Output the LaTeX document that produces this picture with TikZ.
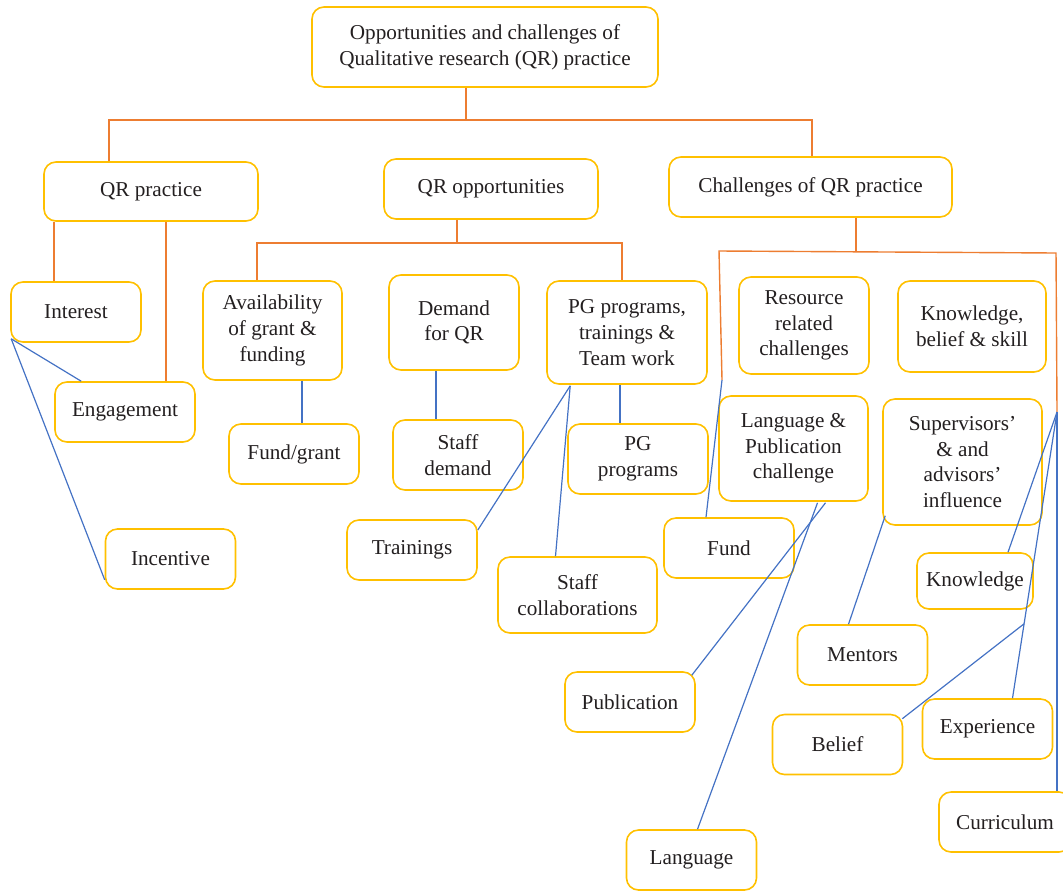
\documentclass[tikz,border=0pt]{standalone}
\usepackage{fontspec}
\setmainfont{Liberation Serif}
\usetikzlibrary{calc}

\definecolor{boxgold}{HTML}{FFC000}
\definecolor{treeorange}{HTML}{ED7D31}
\definecolor{leafblue}{HTML}{4472C4}
\definecolor{inkgray}{HTML}{231F20}

\begin{document}
\begin{tikzpicture}[
        x=0.5pt, y=-0.5pt,
        font=\fontsize{10.6}{12.8}\selectfont,
        box/.style={
            draw=boxgold,
            line width=0.8pt,
            rounded corners=6pt,
            text=inkgray,
            align=center,
            inner sep=1pt,
            minimum width=65pt,
            minimum height=30pt
        },
        trunk/.style={draw=treeorange, line width=0.7pt},
        twig/.style={draw=leafblue, line width=0.6pt}
    ]

    \useasboundingbox (0,0) rectangle (1063,894);

    % top levels
    \node[box, minimum width=173pt, minimum height=40pt] (root) at (485,47)
        {Opportunities and challenges of\\Qualitative research (QR) practice};
    \node[box, minimum width=107pt, minimum height=29.5pt] (qrprac) at (151,191.5) {QR practice};
    \node[box, minimum width=107pt] (qropp) at (491,189) {QR opportunities};
    \node[box, minimum width=141.5pt] (chall) at (810.5,187) {Challenges of QR practice};

    % practice
    \node[box] (interest) at (76,312) {Interest};
    \node[box, minimum width=70pt] (engage) at (125,412) {Engagement};
    \node[box] (incent) at (170.5,559) {Incentive};

    % opportunities
    \node[box, minimum width=69.5pt, minimum height=49.5pt] (avail) at (272.5,330.5)
        {Availability\\of grant \&\\funding};
    \node[box] (fundgrant) at (294,454) {Fund/grant};
    \node[box, minimum height=47.5pt] (demand) at (454,322.5) {Demand\\for QR};
    \node[box, minimum height=35pt] (staffdem) at (458,455) {Staff\\demand};
    \node[box, minimum width=80pt, minimum height=51.5pt] (pgtrain) at (627,332.5)
        {PG programs,\\trainings \&\\Team work};
    \node[box, minimum width=70pt, minimum height=35pt] (pgprog) at (638,459) {PG\\programs};
    \node[box] (trainings) at (412,550) {Trainings};
    \node[box, minimum width=79.5pt, minimum height=38pt] (staffcol) at (577.5,595)
        {Staff\\collaborations};

    % challenges
    \node[box, minimum height=48.5pt] (resource) at (804,325.5) {Resource\\related\\challenges};
    \node[box, minimum width=74pt, minimum height=45.5pt] (kbs) at (972,326.5)
        {Knowledge,\\belief \& skill};
    \node[box, minimum width=74.5pt, minimum height=52.5pt] (langpub) at (793.5,448.5)
        {Language \&\\Publication\\challenge};
    \node[box, minimum width=79.5pt, minimum height=63pt] (superv) at (962.5,462)
        {Supervisors'\\\& and\\advisors'\\influence};
    \node[box] (fund) at (729,548) {Fund};
    \node[box, minimum width=58pt, minimum height=28pt] (knowl) at (975,581) {Knowledge};
    \node[box] (mentors) at (862.5,655) {Mentors};
    \node[box] (public) at (630,702) {Publication};
    \node[box] (belief) at (837.5,744.5) {Belief};
    \node[box] (experience) at (987.5,729) {Experience};
    \node[box, minimum width=66pt] (curric) at (1005,822) {Curriculum};
    \node[box] (language) at (691.5,860) {Language};

    % orange tree
    \coordinate (b1) at (109,120);
    \coordinate (b2) at (812,120);
    \draw[trunk] (root.south -| 466,0) -- (466,120);
    \draw[trunk] (qrprac.north -| b1) -- (b1) -- (b2) -- (chall.north -| b2);

    \draw[trunk] (qrprac.south -| 54,0) -- (interest.north -| 54,0);
    \draw[trunk] (qrprac.south -| 166,0) -- (engage.north -| 166,0);

    \coordinate (o1) at (257,243);
    \coordinate (o2) at (622,243);
    \draw[trunk] (qropp.south -| 457,0) -- (457,243);
    \draw[trunk] (avail.north -| o1) -- (o1) -- (o2) -- (pgtrain.north -| o2);

    \coordinate (c1) at (719,251);
    \coordinate (c2) at (1056,253);
    \coordinate (cl) at (722,380);
    \coordinate (cr) at (1057,412);
    \draw[trunk] (chall.south -| 856,0) -- (856,252);
    \draw[trunk] (cl) -- (c1) -- (c2) -- (cr);

    % blue links
    \coordinate (ip) at ($(interest.south west)+(1,-4)$);
    \draw[twig] (ip) -- ($(engage.north west)+(27,0)$);
    \draw[twig] (ip) -- ($(incent.south west)+(0,-10)$);

    \draw[twig] (avail.south -| 302,0) -- (fundgrant.north -| 302,0);
    \draw[twig] (demand.south -| 436,0) -- (staffdem.north -| 436,0);

    \coordinate (pg) at ($(pgtrain.south west)+(24,1)$);
    \draw[twig] (pg) -- ($(trainings.east)+(0,-20)$);
    \draw[twig] (pg) -- ($(staffcol.north)+(-22,0)$);
    \draw[twig] (pgtrain.south -| 620,0) -- (pgprog.north -| 620,0);

    \draw[twig] (cl) -- ($(fund.north)+(-23,0)$);

    \coordinate (lp1) at ($(langpub.south)+(32,1)$);
    \coordinate (lp2) at ($(langpub.south)+(24,1)$);
    \draw[twig] (lp1) -- ($(public.north east)+(-4,4)$);
    \draw[twig] (lp2) -- ($(language.north)+(6,0)$);

    \draw[twig] ($(superv.south west)+(3,-10)$) -- ($(mentors.north)+(-14,0)$);

    \coordinate (ex) at ($(experience.north)+(25,0)$);
    \coordinate (bj) at ($(cr)!0.74!(ex)$);
    \draw[twig] (cr) -- ($(knowl.north)+(33,0)$);
    \draw[twig] (cr) -- (ex);
    \draw[twig] ($(belief.north east)+(-1,5)$) -- (bj);
    \draw[twig] (cr) -- (curric.north -| cr);

\end{tikzpicture}
\end{document}
